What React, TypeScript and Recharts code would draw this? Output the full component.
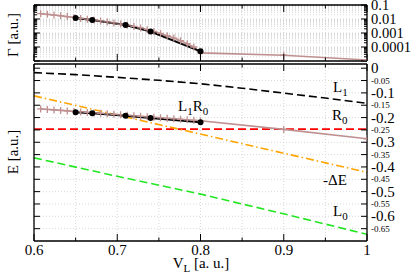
import React from 'react';
import { LineChart, Line, XAxis, YAxis, CartesianGrid } from 'recharts';

// ---------- data ----------
const X_TICKS = [0.6, 0.65, 0.7, 0.75, 0.8, 0.85, 0.9, 0.95, 1.0];
const X_LABEL_VALUES = [0.6, 0.7, 0.8, 0.9, 1.0];
const X_LABELS = ['0.6', '0.7', '0.8', '0.9', '1'];

const GAMMA_DECADES = [1e-5, 1e-4, 1e-3, 1e-2, 1e-1];
const GAMMA_MINOR_MULT = [2, 3, 4, 5, 6, 7, 8, 9];
const GAMMA_LABEL_VALUES = [0.1, 0.01, 0.001, 0.0001];
const GAMMA_LABELS = ['0.1', '0.01', '0.001', '0.0001'];

const E_TICKS = [0, -0.05, -0.1, -0.15, -0.2, -0.25, -0.3, -0.35, -0.4, -0.45, -0.5, -0.55, -0.6, -0.65];

const BROWN_X = [
  0.608, 0.616, 0.624, 0.632, 0.64, 0.648, 0.656, 0.664, 0.672, 0.68, 0.688, 0.696, 0.704,
  0.712, 0.72, 0.728, 0.736, 0.744, 0.752, 0.76, 0.768, 0.776, 0.784, 0.792, 0.8, 0.9, 1.0,
];
const BROWN_GAMMA = [
  0.024, 0.0214, 0.0191, 0.017, 0.0148, 0.0129, 0.011, 0.00977, 0.00851, 0.00724, 0.00617,
  0.00525, 0.00437, 0.00363, 0.00295, 0.00229, 0.00174, 0.00129, 0.000933, 0.000646,
  0.000437, 0.000282, 0.000174, 0.0001, 0.000038, 0.0000257, 0.0000117,
];
const BROWN_E = [
  -0.165, -0.167, -0.169, -0.171, -0.173, -0.175, -0.177, -0.179, -0.181, -0.183, -0.185,
  -0.187, -0.189, -0.191, -0.193, -0.195, -0.197, -0.199, -0.201, -0.203, -0.205, -0.207,
  -0.209, -0.211, -0.213, -0.248, -0.286,
];

const BLACK_X = [0.65, 0.67, 0.71, 0.74, 0.8];
const BLACK_GAMMA = [0.0117, 0.0085, 0.00372, 0.00129, 0.000049];
const BLACK_E = [-0.178, -0.183, -0.193, -0.202, -0.219];

const L1_X = [0.6, 0.65, 0.7, 0.75, 0.8, 0.85, 0.9, 0.95, 1.0];
const L1_E = [-0.018, -0.026, -0.037, -0.049, -0.063, -0.081, -0.101, -0.121, -0.142];

const R0_X = [0.6, 1.0];
const R0_E = [-0.247, -0.247];

const DE_X = [0.6, 1.0];
const DE_E = [-0.112, -0.422];

const L0_X = [0.6, 0.7, 0.8, 0.9, 1.0];
const L0_E = [-0.363, -0.438, -0.51, -0.59, -0.673];

// ---------- styles ----------
const FONT = "'Liberation Serif', 'DejaVu Serif', serif";
const BROWN = '#bf9090';
const GRID = '#cfcfcf';
const TXT = { fontFamily: FONT };

const zip = (xs: number[], ys: number[]) => xs.map((x, i) => ({ x, y: ys[i] }));

const gammaTicks: number[] = [];
GAMMA_DECADES.forEach((d, i) => {
  gammaTicks.push(d);
  if (i < GAMMA_DECADES.length - 1) GAMMA_MINOR_MULT.forEach((m) => gammaTicks.push(m * d));
});

const isDecade = (v: number) => Math.abs(Math.log10(v) - Math.round(Math.log10(v))) < 1e-6;
const isMajorX = (v: number) => Math.abs(v * 10 - Math.round(v * 10)) < 1e-6;

const PlusDot = (props: any) => {
  const { cx, cy, index } = props;
  if (cx == null || cy == null) return <g key={`e${index}`} />;
  return (
    <path
      key={`p${index}`}
      d={`M${cx - 3.5},${cy}h7M${cx},${cy - 3.5}v7`}
      stroke={BROWN}
      strokeWidth={1.3}
      fill="none"
    />
  );
};

// x ticks
const XTickBottom = (withLabel: boolean) => (p: any) => {
  const { x, y, payload } = p;
  const v = payload.value;
  const len = isMajorX(v) ? 7 : 3.5;
  const li = X_LABEL_VALUES.findIndex((lv) => Math.abs(lv - v) < 1e-6);
  return (
    <g>
      <line x1={x} y1={y} x2={x} y2={y - len} stroke="#000" strokeWidth={1} />
      {withLabel && li >= 0 ? (
        <text x={x} y={y + 13.5} textAnchor="middle" fontSize={15} style={TXT} fill="#000">
          {X_LABELS[li]}
        </text>
      ) : null}
    </g>
  );
};
const XTickTop = (p: any) => {
  const { x, y, payload } = p;
  const len = isMajorX(payload.value) ? 7 : 3.5;
  return <line x1={x} y1={y} x2={x} y2={y + len} stroke="#000" strokeWidth={1} />;
};

// gamma ticks
const GTickLeft = (p: any) => {
  const { x, y, payload } = p;
  const len = isDecade(payload.value) ? 6 : 3;
  return <line x1={x} y1={y} x2={x + len} y2={y} stroke="#000" strokeWidth={1} />;
};
const GTickRight = (p: any) => {
  const { x, y, payload } = p;
  const v = payload.value;
  const len = isDecade(v) ? 6 : 3;
  const li = GAMMA_LABEL_VALUES.findIndex((lv) => Math.abs(lv - v) / lv < 1e-6);
  return (
    <g>
      <line x1={x} y1={y} x2={x - len} y2={y} stroke="#000" strokeWidth={1} />
      {li >= 0 ? (
        <text x={x + 4} y={y} dy="0.33em" fontSize={14.5} style={TXT} fill="#000">
          {GAMMA_LABELS[li]}
        </text>
      ) : null}
    </g>
  );
};

// energy ticks
const ETickLeft = (p: any) => {
  const { x, y } = p;
  return <line x1={x} y1={y} x2={x + 6} y2={y} stroke="#000" strokeWidth={1} />;
};
const ETickRight = (p: any) => {
  const { x, y, payload } = p;
  const v = payload.value;
  const major = isMajorX(v);
  const label = major ? (Math.abs(v) < 1e-9 ? '0' : v.toFixed(1)) : v.toFixed(2);
  return (
    <g>
      <line x1={x} y1={y} x2={x - 6} y2={y} stroke="#000" strokeWidth={1} />
      <text x={x + 4} y={y} dy="0.33em" fontSize={major ? 15 : 9} style={TXT} fill="#000">
        {label}
      </text>
    </g>
  );
};

const AXIS_LINE = { stroke: '#000', strokeWidth: 1.3 };

const xAxisCommon = {
  type: 'number' as const,
  dataKey: 'x',
  domain: [0.6, 1] as [number, number],
  allowDataOverflow: true,
  ticks: X_TICKS,
  interval: 0 as const,
  height: 1,
  tickSize: 0,
  tickMargin: 0,
  tickLine: false,
  axisLine: AXIS_LINE,
};

export default function App() {
  return (
    <div style={{ position: 'absolute', left: 0, top: 0, width: 415, height: 278, background: '#fff', fontFamily: FONT }}>
      {/* bottom panel: energies */}
      <div style={{ position: 'absolute', left: 0, top: 0 }}>
        <LineChart width={415} height={278} margin={{ top: 63, right: 47, bottom: 36, left: 33 }}>
          <CartesianGrid stroke={GRID} strokeDasharray="1 2" strokeWidth={0.8} />
          <XAxis {...xAxisCommon} tick={XTickBottom(true)} />
          <XAxis {...xAxisCommon} xAxisId="t" orientation="top" tick={XTickTop} />
          <YAxis
            type="number"
            domain={[-0.7, 0.017]}
            allowDataOverflow
            ticks={E_TICKS}
            interval={0}
            width={1}
            tickSize={0}
            tickMargin={0}
            tickLine={false}
            axisLine={AXIS_LINE}
            tick={ETickLeft}
          />
          <YAxis
            yAxisId="r"
            orientation="right"
            type="number"
            domain={[-0.7, 0.017]}
            allowDataOverflow
            ticks={E_TICKS}
            interval={0}
            width={1}
            tickSize={0}
            tickMargin={0}
            tickLine={false}
            axisLine={AXIS_LINE}
            tick={ETickRight}
          />
          <Line data={zip(L1_X, L1_E)} dataKey="y" stroke="#000" strokeWidth={1.6} strokeDasharray="8 4" dot={false} isAnimationActive={false} />
          <Line data={zip(R0_X, R0_E)} dataKey="y" stroke="#ff0000" strokeWidth={1.6} strokeDasharray="8 4" dot={false} isAnimationActive={false} />
          <Line data={zip(DE_X, DE_E)} dataKey="y" stroke="#ffa500" strokeWidth={1.6} strokeDasharray="8 3 1.5 3" dot={false} isAnimationActive={false} />
          <Line data={zip(L0_X, L0_E)} dataKey="y" stroke="#22e622" strokeWidth={1.6} strokeDasharray="8 4" dot={false} isAnimationActive={false} />
          <Line data={zip(BROWN_X, BROWN_E)} dataKey="y" stroke={BROWN} strokeWidth={1.6} dot={PlusDot} isAnimationActive={false} />
          <Line data={zip(BLACK_X, BLACK_E)} dataKey="y" stroke="#000" strokeWidth={2} dot={{ r: 3, fill: '#000', stroke: '#000', strokeWidth: 0 }} isAnimationActive={false} />
        </LineChart>
      </div>

      {/* top panel: widths */}
      <div style={{ position: 'absolute', left: 0, top: 0 }}>
        <LineChart width={415} height={66} margin={{ top: 4, right: 47, bottom: 4, left: 33 }}>
          <CartesianGrid stroke={GRID} strokeDasharray="1 2" strokeWidth={0.8} />
          <XAxis {...xAxisCommon} tick={XTickBottom(false)} />
          <XAxis {...xAxisCommon} xAxisId="t" orientation="top" tick={XTickTop} />
          <YAxis
            type="number"
            scale="log"
            domain={[1e-5, 0.1]}
            allowDataOverflow
            ticks={gammaTicks}
            interval={0}
            width={1}
            tickSize={0}
            tickMargin={0}
            tickLine={false}
            axisLine={AXIS_LINE}
            tick={GTickLeft}
          />
          <YAxis
            yAxisId="r"
            orientation="right"
            type="number"
            scale="log"
            domain={[1e-5, 0.1]}
            allowDataOverflow
            ticks={gammaTicks}
            interval={0}
            width={1}
            tickSize={0}
            tickMargin={0}
            tickLine={false}
            axisLine={AXIS_LINE}
            tick={GTickRight}
          />
          <Line data={zip(BROWN_X, BROWN_GAMMA)} dataKey="y" stroke={BROWN} strokeWidth={1.6} dot={PlusDot} isAnimationActive={false} />
          <Line data={zip(BLACK_X, BLACK_GAMMA)} dataKey="y" stroke="#000" strokeWidth={2} dot={{ r: 3, fill: '#000', stroke: '#000', strokeWidth: 0 }} isAnimationActive={false} />
        </LineChart>
      </div>

      {/* titles and annotations */}
      <svg width={415} height={278} style={{ position: 'absolute', left: 0, top: 0, pointerEvents: 'none', fontFamily: FONT }} fill="#000">
        <text x={18} y={35} fontSize={15} textAnchor="middle" transform="rotate(-90 18 35)">Γ [a.u.]</text>
        <text x={18} y={152} fontSize={15} textAnchor="middle" transform="rotate(-90 18 152)">E [a.u.]</text>
        <text x={201} y={268} fontSize={15} textAnchor="middle">
          V<tspan fontSize={11} dy={4}>L</tspan>
          <tspan dy={-4}> [a. u.]</tspan>
        </text>
        <text x={178} y={111} fontSize={15}>
          L<tspan fontSize={11} dy={4}>1</tspan>
          <tspan dy={-4}>R</tspan>
          <tspan fontSize={11} dy={4}>0</tspan>
        </text>
        <text x={333} y={92} fontSize={15}>
          L<tspan fontSize={11} dy={4}>1</tspan>
        </text>
        <text x={332} y={120} fontSize={15}>
          R<tspan fontSize={11} dy={4}>0</tspan>
        </text>
        <text x={323} y={185} fontSize={15}>-ΔE</text>
        <text x={333} y={216} fontSize={15}>
          L<tspan fontSize={11} dy={4}>0</tspan>
        </text>
      </svg>
    </div>
  );
}
